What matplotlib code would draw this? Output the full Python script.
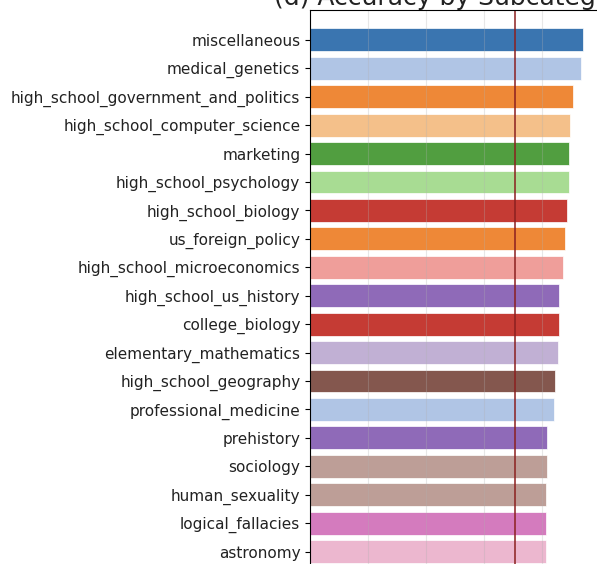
import matplotlib.pyplot as plt

# top subcategories by accuracy
subcategories = [
    "miscellaneous", "medical_genetics", "high_school_government_and_politics",
    "high_school_computer_science", "marketing", "high_school_psychology",
    "high_school_biology", "us_foreign_policy", "high_school_microeconomics",
    "high_school_us_history", "college_biology", "elementary_mathematics",
    "high_school_geography", "professional_medicine", "prehistory",
    "sociology", "human_sexuality", "logical_fallacies", "astronomy",
]
accuracy = [
    0.941, 0.934, 0.907, 0.897, 0.894, 0.894, 0.886, 0.879, 0.871, 0.860,
    0.860, 0.855, 0.846, 0.841, 0.818, 0.818, 0.815, 0.814, 0.814,
]
bar_colors = [
    "#3a75b0", "#b0c5e5", "#ee8837", "#f4c08a", "#519e40", "#a8dc93",
    "#c53b34", "#ee8837", "#ef9e9a", "#8f6ab8", "#c53b34", "#c1b0d4",
    "#84574e", "#b0c5e5", "#8f6ab8", "#bd9e97", "#bd9e97", "#d47bbe",
    "#ecb7cf",
]
overall_accuracy = 0.707

W, H = 597, 564
fig = plt.figure(figsize=(W / 100, H / 100), dpi=100)
# axes run past the right and bottom edges of the figure
ax = fig.add_axes([310 / W, -16 / H, 290 / W, 570 / H])

y = list(range(len(subcategories)))
ax.barh(y, accuracy, height=0.8, color=bar_colors,
        edgecolor="white", linewidth=0.5)
ax.axvline(overall_accuracy, color="#8b2020", linewidth=1.1)

ax.set_yticks(y)
ax.set_yticklabels(subcategories, fontsize=11, color="#222222")
ax.set_ylim(19, -1.05)
ax.set_xlim(0, 1.0)
ax.set_xticks([0, 0.2, 0.4, 0.6, 0.8, 1.0])
ax.tick_params(axis="x", labelbottom=False)
ax.grid(axis="x", alpha=0.3)
ax.set_title("(d) Accuracy by Subcategory", fontsize=18, pad=3, color="#222222")

plt.savefig("out.png", dpi=100)
